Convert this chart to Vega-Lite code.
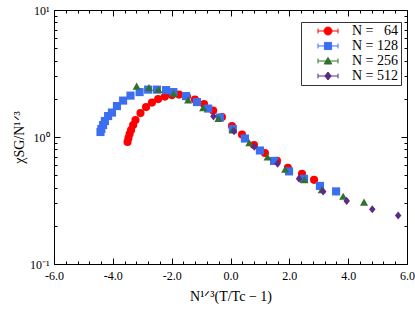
{
  "$schema": "https://vega.github.io/schema/vega-lite/v6.json",
  "width": 353,
  "height": 254,
  "autosize": {"type": "none"},
  "padding": {"left": 54, "top": 10, "right": 8, "bottom": 45},
  "background": "white",
  "config": {
    "view": {"stroke": null},
    "font": "Liberation Serif",
    "axis": {"domainColor": "#000", "domainWidth": 1, "tickColor": "#000", "tickWidth": 1, "grid": false, "labelFlush": false, "labelOverlap": false, "labelColor": "#000", "labelFontSize": 12, "labelFont": "Liberation Serif", "titleFont": "Liberation Serif", "titleFontSize": 14, "titleFontWeight": "normal", "titleColor": "#000"},
    "legend": {"orient": "none", "legendX": 247, "legendY": 12, "title": null,
      "fillColor": "white", "strokeColor": "#333", "padding": 2, "rowPadding": 1,
      "symbolSize": 64, "symbolOffset": 18, "labelOffset": 17, "symbolOpacity": 1, "symbolStrokeWidth": 1,
      "labelFont": "Liberation Serif", "labelFontSize": 14, "labelColor": "#000"}
  },
  "data": {"values": [
    {"N": 64, "x": -3.50, "y": 0.913},
    {"N": 64, "x": -3.47, "y": 0.982},
    {"N": 64, "x": -3.43, "y": 1.056},
    {"N": 64, "x": -3.38, "y": 1.135},
    {"N": 64, "x": -3.31, "y": 1.243},
    {"N": 64, "x": -3.23, "y": 1.360},
    {"N": 64, "x": -3.06, "y": 1.543},
    {"N": 64, "x": -2.87, "y": 1.720},
    {"N": 64, "x": -2.67, "y": 1.866},
    {"N": 64, "x": -2.46, "y": 1.989},
    {"N": 64, "x": -2.23, "y": 2.080},
    {"N": 64, "x": -1.99, "y": 2.138},
    {"N": 64, "x": -1.75, "y": 2.157},
    {"N": 64, "x": -1.48, "y": 2.080},
    {"N": 64, "x": -1.21, "y": 1.971},
    {"N": 64, "x": -0.90, "y": 1.816},
    {"N": 64, "x": -0.59, "y": 1.615},
    {"N": 64, "x": -0.29, "y": 1.436},
    {"N": 64, "x": 0.05, "y": 1.220},
    {"N": 64, "x": 0.39, "y": 1.046},
    {"N": 64, "x": 0.80, "y": 0.865},
    {"N": 64, "x": 1.17, "y": 0.749},
    {"N": 64, "x": 1.58, "y": 0.648},
    {"N": 64, "x": 1.95, "y": 0.571},
    {"N": 64, "x": 2.43, "y": 0.512},
    {"N": 64, "x": 2.84, "y": 0.460},
    {"N": 128, "x": -4.42, "y": 1.095},
    {"N": 128, "x": -4.39, "y": 1.156},
    {"N": 128, "x": -4.33, "y": 1.243},
    {"N": 128, "x": -4.27, "y": 1.336},
    {"N": 128, "x": -4.16, "y": 1.462},
    {"N": 128, "x": -4.03, "y": 1.557},
    {"N": 128, "x": -3.86, "y": 1.752},
    {"N": 128, "x": -3.65, "y": 1.935},
    {"N": 128, "x": -3.40, "y": 2.118},
    {"N": 128, "x": -3.09, "y": 2.257},
    {"N": 128, "x": -2.80, "y": 2.361},
    {"N": 128, "x": -2.50, "y": 2.361},
    {"N": 128, "x": -2.19, "y": 2.340},
    {"N": 128, "x": -1.94, "y": 2.257},
    {"N": 128, "x": -1.51, "y": 2.099},
    {"N": 128, "x": -1.14, "y": 1.884},
    {"N": 128, "x": -0.76, "y": 1.675},
    {"N": 128, "x": -0.36, "y": 1.423},
    {"N": 128, "x": 0.08, "y": 1.156},
    {"N": 128, "x": 0.49, "y": 0.973},
    {"N": 128, "x": 1.00, "y": 0.783},
    {"N": 128, "x": 1.48, "y": 0.648},
    {"N": 128, "x": 1.99, "y": 0.536},
    {"N": 128, "x": 2.50, "y": 0.468},
    {"N": 128, "x": 3.04, "y": 0.412},
    {"N": 128, "x": 3.59, "y": 0.373},
    {"N": 256, "x": -3.19, "y": 2.516},
    {"N": 256, "x": -2.77, "y": 2.457},
    {"N": 256, "x": -2.45, "y": 2.370},
    {"N": 256, "x": -1.94, "y": 2.204},
    {"N": 256, "x": -1.44, "y": 1.953},
    {"N": 256, "x": -0.93, "y": 1.699},
    {"N": 256, "x": -0.41, "y": 1.398},
    {"N": 256, "x": 0.08, "y": 1.135},
    {"N": 256, "x": 0.64, "y": 0.902},
    {"N": 256, "x": 1.26, "y": 0.696},
    {"N": 256, "x": 1.86, "y": 0.558},
    {"N": 256, "x": 2.51, "y": 0.460},
    {"N": 256, "x": 3.10, "y": 0.384},
    {"N": 256, "x": 3.83, "y": 0.341},
    {"N": 256, "x": 4.54, "y": 0.307},
    {"N": 512, "x": -0.58, "y": 1.454},
    {"N": 512, "x": 0.12, "y": 1.109},
    {"N": 512, "x": 0.81, "y": 0.839},
    {"N": 512, "x": 1.60, "y": 0.616},
    {"N": 512, "x": 2.33, "y": 0.470},
    {"N": 512, "x": 3.15, "y": 0.372},
    {"N": 512, "x": 3.95, "y": 0.314},
    {"N": 512, "x": 4.82, "y": 0.270},
    {"N": 512, "x": 5.70, "y": 0.241}
  ]},
  "resolve": {"axis": {"x": "independent", "y": "independent"}, "scale": {"shape": "independent", "color": "independent", "fill": "independent", "stroke": "independent"}},
  "layer": [
    {
      "mark": {"type": "point", "filled": true, "opacity": 1, "size": 66},
      "encoding": {
        "x": {"field": "x", "type": "quantitative",
          "scale": {"domain": [-6, 6], "nice": false, "zero": false},
          "axis": {"orient": "bottom", "title": "N¹ᐟ³(T/Tc − 1)", "titlePadding": 5,
            "values": [-6,-5.6,-5.2,-4.8,-4.4,-4,-3.6,-3.2,-2.8,-2.4,-2,-1.6,-1.2,-0.8,-0.4,0,0.4,0.8,1.2,1.6,2,2.4,2.8,3.2,3.6,4,4.4,4.8,5.2,5.6,6],
            "tickSize": {"condition": {"test": "datum.value % 2 == 0", "value": -6}, "value": -3},
            "labelPadding": 12,
            "labelExpr": "datum.value % 2 == 0 ? replace(format(datum.value, '.1f'), '\u2212', '-') : ''"}},
        "y": {"field": "y", "type": "quantitative",
          "scale": {"type": "log", "domain": [0.1, 10], "nice": false},
          "axis": {"orient": "left", "title": "χSG/N¹ᐟ³", "titlePadding": 3,
            "values": [0.1,0.2,0.3,0.4,0.5,0.6,0.7,0.8,0.9,1,2,3,4,5,6,7,8,9,10],
            "tickSize": {"condition": {"test": "datum.value == 0.1 || datum.value == 1 || datum.value == 10", "value": -6}, "value": -3},
            "labelPadding": 11,
            "labelExpr": "datum.value == 10 ? '10¹' : datum.value == 1 ? '10⁰' : datum.value == 0.1 ? '10⁻¹' : ''"}},
        "color": {"field": "N", "type": "ordinal", "legend": null,
          "scale": {"domain": [64, 128, 256, 512], "range": ["#ff0000", "#3b6ff0", "#32702e", "#5b2b86"]}},
        "shape": {"field": "N", "type": "ordinal", "legend": null,
          "scale": {"domain": [64, 128, 256, 512], "range": ["circle", "square", "triangle-up", "M0,-1L0.8,0L0,1L-0.8,0Z"]}}
      }
    },
    {
      "mark": {"type": "point", "opacity": 0},
      "encoding": {
        "x": {"field": "x", "type": "quantitative",
          "axis": {"orient": "top", "title": null, "labels": false,
            "values": [-6,-5.6,-5.2,-4.8,-4.4,-4,-3.6,-3.2,-2.8,-2.4,-2,-1.6,-1.2,-0.8,-0.4,0,0.4,0.8,1.2,1.6,2,2.4,2.8,3.2,3.6,4,4.4,4.8,5.2,5.6,6],
            "tickSize": {"condition": {"test": "datum.value % 2 == 0", "value": -6}, "value": -3}}},
        "y": {"field": "y", "type": "quantitative",
          "axis": {"orient": "right", "title": null, "labels": false,
            "values": [0.1,0.2,0.3,0.4,0.5,0.6,0.7,0.8,0.9,1,2,3,4,5,6,7,8,9,10],
            "tickSize": {"condition": {"test": "datum.value == 0.1 || datum.value == 1 || datum.value == 10", "value": -6}, "value": -3}}}
      }
    },
    {
      "data": {"values": [
        {"series": "N = \u200764"},
        {"series": "N = 128"},
        {"series": "N = 256"},
        {"series": "N = 512"}
      ]},
      "mark": {"type": "point", "filled": true, "opacity": 0},
      "encoding": {
        "shape": {"field": "series", "type": "nominal", "legend": {},
          "scale": {"domain": ["N = \u200764", "N = 128", "N = 256", "N = 512"],
            "range": [
              "M-1,0A1,1,0,1,1,1,0A1,1,0,1,1,-1,0Z M-2.5,0L2.5,0 M-2.5,-0.6L-2.5,0.6 M2.5,-0.6L2.5,0.6",
              "M-0.9,-0.9L0.9,-0.9L0.9,0.9L-0.9,0.9Z M-2.5,0L2.5,0 M-2.5,-0.6L-2.5,0.6 M2.5,-0.6L2.5,0.6",
              "M0,-0.9L0.95,0.75L-0.95,0.75Z M-2.5,0L2.5,0 M-2.5,-0.6L-2.5,0.6 M2.5,-0.6L2.5,0.6",
              "M0,-1L0.8,0L0,1L-0.8,0Z M-2.5,0L2.5,0 M-2.5,-0.6L-2.5,0.6 M2.5,-0.6L2.5,0.6"]}},
        "fill": {"field": "series", "type": "nominal", "legend": {},
          "scale": {"domain": ["N = \u200764", "N = 128", "N = 256", "N = 512"], "range": ["#ff0000", "#3b6ff0", "#32702e", "#5b2b86"]}},
        "stroke": {"field": "series", "type": "nominal", "legend": {},
          "scale": {"domain": ["N = \u200764", "N = 128", "N = 256", "N = 512"], "range": ["#ff0000", "#3b6ff0", "#32702e", "#5b2b86"]}}
      }
    }
  ]
}
